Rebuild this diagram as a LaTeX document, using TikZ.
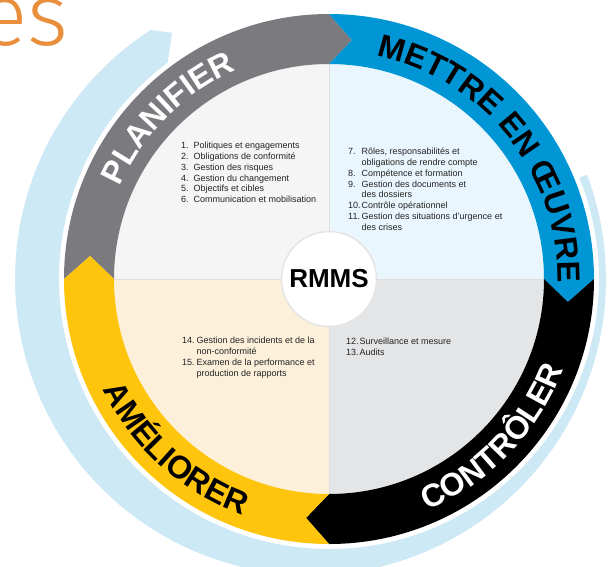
\documentclass[tikz,border=0pt]{standalone}
\usepackage{fontspec}
\setmainfont{Liberation Sans}
\IfFontExistsTF{Fira Sans Light}{\newfontfamily\titlefont{Fira Sans Light}}{\newfontfamily\titlefont{Lato}}
\usepackage{tikz}
\usetikzlibrary{decorations.text}
\definecolor{bandblue}{RGB}{204, 233, 245}
\definecolor{ringgray}{RGB}{123, 122, 127}
\definecolor{ringblue}{RGB}{0, 150, 214}
\definecolor{ringyellow}{RGB}{255, 196, 12}
\definecolor{ringblack}{RGB}{0, 0, 0}
\definecolor{quadtl}{RGB}{245, 245, 245}
\definecolor{quadtr}{RGB}{234, 246, 253}
\definecolor{quadbr}{RGB}{228, 229, 231}
\definecolor{quadbl}{RGB}{252, 240, 219}
\definecolor{textgray}{RGB}{35, 35, 35}
\definecolor{titleorange}{RGB}{232, 142, 60}
\newcommand{\ringfont}{\bfseries\fontsize{32}{32}\selectfont}

\begin{document}
\begin{tikzpicture}[x=1pt, y=1pt,
  liste/.style={anchor=north west, inner sep=0pt, text=textgray,
    font=\fontsize{9}{10.8}\selectfont}]

  \pgfmathsetmacro{\Ro}{265}
  \pgfmathsetmacro{\Ri}{215}
  \pgfmathsetmacro{\Rm}{240}
  \pgfmathsetmacro{\d}{5.5}

  \useasboundingbox (-329, -287) rectangle (282, 279);

  \node[anchor=base east, inner sep=0pt, text=titleorange,
    font=\titlefont\fontsize{88}{88}\selectfont] (titre) at (-260, 234) {es};

  % big arrow around the cycle
  \fill[bandblue] plot[domain=22:-234.4, samples=150] (\x:{295.5 - 18.5 * cos(\x)})
    -- (-237.5:292) -- (-233.3:270)
    arc[start angle=-233.3, end angle=22, radius=270] -- cycle;

  % quadrants
  \fill[quadtl] (0, 0) -- (90:\Ri) arc[start angle=90, end angle=180, radius=\Ri] -- cycle;
  \fill[quadtr] (0, 0) -- (0:\Ri) arc[start angle=0, end angle=90, radius=\Ri] -- cycle;
  \fill[quadbr] (0, 0) -- (-90:\Ri) arc[start angle=-90, end angle=0, radius=\Ri] -- cycle;
  \fill[quadbl] (0, 0) -- (180:\Ri) arc[start angle=180, end angle=270, radius=\Ri] -- cycle;

  \foreach \a in {0, 90, 180, 270} {
    \draw[gray!25, line width=0.6] (0, 0) -- (\a:\Ri);
  }

  % ring segments, each with its arrow tip
  \foreach \a/\c in {180/ringgray, 90/ringblue, 0/ringblack, -90/ringyellow} {
    \fill[\c] (\a:\Ro) arc[start angle=\a, end angle=\a-90, radius=\Ro]
      -- ({\a - 90 - \d}:\Rm) -- ({\a - 90}:\Ri)
      arc[start angle=\a-90, end angle=\a, radius=\Ri]
      -- ({\a - \d}:\Rm) -- cycle;
  }

  \path[decorate, decoration={text along path, text align=center, text color=white,
    text={|\ringfont|PLANIFIER}}]
    (176:228.5) arc[start angle=176, end angle=94, radius=228.5];
  \path[decorate, decoration={text along path, text align=center, text color=black,
    text={|\ringfont|METTRE EN ŒUVRE}}]
    (84:228.5) arc[start angle=84, end angle=-7, radius=228.5];
  \path[decorate, decoration={text along path, text align=center, text color=white,
    text={|\ringfont|CONTRÔLER}}]
    (-81:251.5) arc[start angle=-81, end angle=-7, radius=251.5];
  \path[decorate, decoration={text along path, text align=center, text color=black,
    text={|\ringfont|AMÉLIORER}}]
    (191:251.5) arc[start angle=191, end angle=265, radius=251.5];

  \node[circle, fill=white, draw=gray!20, line width=1.5, minimum size=95, inner sep=0pt,
    font=\bfseries\fontsize{26}{26}\selectfont] (rmms) at (0, 0) {RMMS};

  \node[liste] (planifier) at (-148, 138) {%
    \begin{tabular}{@{}p{12.5pt}@{}l@{}}
      1. & Politiques et engagements\\
      2. & Obligations de conformité\\
      3. & Gestion des risques\\
      4. & Gestion du changement\\
      5. & Objectifs et cibles\\
      6. & Communication et mobilisation
    \end{tabular}};

  \node[liste] (oeuvre) at (19, 132) {%
    \begin{tabular}{@{}p{13.5pt}@{}l@{}}
      7. & Rôles, responsabilités et\\
         & obligations de rendre compte\\
      8. & Compétence et formation\\
      9. & Gestion des documents et\\
         & des dossiers\\
      10. & Contrôle opérationnel\\
      11. & Gestion des situations d’urgence et\\
          & des crises
    \end{tabular}};

  \node[liste] (controler) at (17, -58) {%
    \begin{tabular}{@{}p{13.5pt}@{}l@{}}
      12. & Surveillance et mesure\\
      13. & Audits
    \end{tabular}};

  \node[liste] (ameliorer) at (-147, -57) {%
    \begin{tabular}{@{}p{14.5pt}@{}l@{}}
      14. & Gestion des incidents et de la\\
          & non-conformité\\
      15. & Examen de la performance et\\
          & production de rapports
    \end{tabular}};

\end{tikzpicture}
\end{document}
